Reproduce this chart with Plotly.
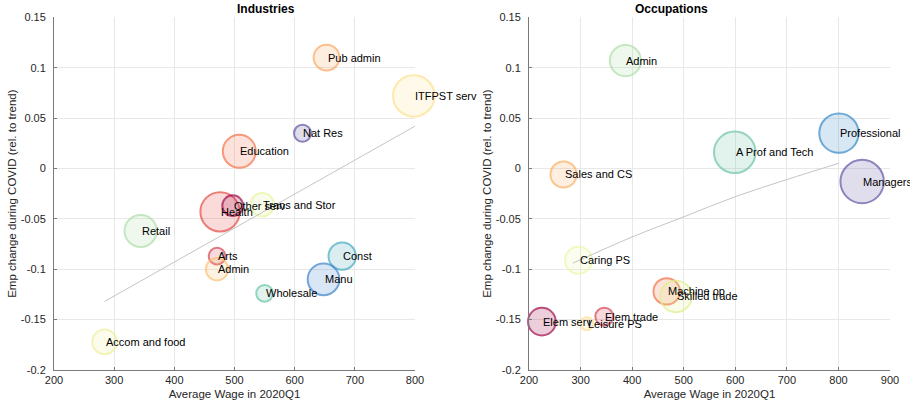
import plotly.graph_objects as go
from plotly.subplots import make_subplots

# Industries
ind_names = ['Pub admin', 'ITFPST serv', 'Nat Res', 'Education', 'Health', 'Other serv',
             'Trans and Stor', 'Retail', 'Arts', 'Admin', 'Const', 'Manu', 'Wholesale',
             'Accom and food']
ind_wage = [653, 798, 613, 508, 476, 497, 546, 344, 471, 471, 679, 648, 550, 284]
ind_emp = [0.110, 0.072, 0.035, 0.017, -0.043, -0.037, -0.036, -0.062, -0.087, -0.100,
           -0.087, -0.110, -0.124, -0.172]
ind_size = [1.87, 4.84, 0.81, 3.06, 4.34, 1.21, 1.52, 2.89, 0.78, 1.40, 2.10, 2.83, 0.78, 1.69]
ind_colors = ['#fca55d', '#fee08b', '#5e4fa2', '#f46d43', '#e6453f', '#9e0142', '#e6f598',
              '#abdda4', '#d53e4f', '#fdbf6f', '#40a8be', '#3b7fca', '#66c2a5', '#efef9c']
ind_trend_x = [284, 800]
ind_trend_y = [-0.132, 0.042]

# Occupations
occ_names = ['Admin', 'Professional', 'A Prof and Tech', 'Sales and CS', 'Managers',
             'Caring PS', 'Machine op', 'Skilled trade', 'Elem serv', 'Leisure PS', 'Elem trade']
occ_wage = [387, 801, 599, 267, 846, 296, 467, 485, 225, 312, 346]
occ_emp = [0.107, 0.035, 0.016, -0.006, -0.013, -0.091, -0.122, -0.127, -0.152, -0.154, -0.147]
occ_size = [2.72, 4.34, 4.84, 1.91, 5.29, 2.05, 1.96, 2.78, 2.15, 0.47, 0.90]
occ_colors = ['#abdda4', '#2f86c4', '#66c2a5', '#fdae61', '#5e4fa2', '#eef6a8', '#f46d43',
              '#dff08c', '#9e0142', '#fee08b', '#d53e4f']
occ_trend_x = [285, 400, 500, 600, 700, 800]
occ_trend_y = [-0.094, -0.068, -0.048, -0.028, -0.011, 0.005]

y_ticks = [-0.2, -0.15, -0.1, -0.05, 0, 0.05, 0.1, 0.15]
y_tick_labels = ['-0.2', '-0.15', '-0.1', '-0.05', '0', '0.05', '0.1', '0.15']


def rgba(h, a):
    h = h.lstrip('#')
    return 'rgba(%d,%d,%d,%s)' % (int(h[0:2], 16), int(h[2:4], 16), int(h[4:6], 16), a)


FONT = 'Liberation Sans, Arial, Helvetica, sans-serif'
INK = '#262626'

fig = make_subplots(rows=1, cols=2)

panels = [
    (1, ind_names, ind_wage, ind_emp, ind_size, ind_colors, ind_trend_x, ind_trend_y),
    (2, occ_names, occ_wage, occ_emp, occ_size, occ_colors, occ_trend_x, occ_trend_y),
]

for col, names, wage, emp, size, colors, tx, ty in panels:
    fig.add_trace(go.Scatter(
        x=wage, y=emp, mode='markers', cliponaxis=False, hoverinfo='text', text=names,
        marker=dict(size=size, sizemode='area', sizeref=1 / 178,
                    color=[rgba(c, 0.27) for c in colors],
                    line=dict(color=[rgba(c, 1) for c in colors], width=2)),
        showlegend=False), row=1, col=col)
    fig.add_trace(go.Scatter(
        x=tx, y=ty, mode='lines', line=dict(color='#bdbdbd', width=0.9, shape='spline'),
        hoverinfo='skip', showlegend=False), row=1, col=col)
    xref = 'x' if col == 1 else 'x2'
    yref = 'y' if col == 1 else 'y2'
    for n, xv, yv in zip(names, wage, emp):
        fig.add_annotation(x=xv, y=yv, xref=xref, yref=yref, text=n, showarrow=False,
                           xanchor='left', yanchor='middle', xshift=-1,
                           font=dict(family=FONT, size=11, color='black'))

axis_common = dict(showline=True, linecolor='#7a7a7a', linewidth=1, showgrid=True,
                   gridcolor='#e8e8e8', gridwidth=1, zeroline=False, ticks='inside',
                   ticklen=3, tickcolor='#7a7a7a', mirror=False, automargin=False,
                   tickfont=dict(family=FONT, size=11, color=INK))

fig.update_xaxes(**axis_common, title=dict(text='Average Wage in 2020Q1', standoff=4,
                 font=dict(family=FONT, size=11.5, color=INK)))
fig.update_yaxes(**axis_common, range=[-0.2, 0.15], tickvals=y_ticks, ticktext=y_tick_labels,
                 ticklabelstandoff=5,
                 title=dict(text='Emp change during COVID (rel. to trend)', standoff=1,
                            font=dict(family=FONT, size=11.5, color=INK)))

fig.update_layout(
    width=910, height=407, margin=dict(l=0, r=0, t=0, b=0),
    paper_bgcolor='white', plot_bgcolor='white',
    xaxis=dict(domain=[54 / 910, 415 / 910], range=[200, 800], dtick=100),
    xaxis2=dict(domain=[529 / 910, 890 / 910], range=[200, 900], dtick=100),
    yaxis=dict(domain=[37 / 407, 389.7 / 407]),
    yaxis2=dict(domain=[37 / 407, 389.7 / 407]),
)

for title, dom in [('Industries', (54, 415)), ('Occupations', (529, 890))]:
    fig.add_annotation(x=(dom[0] + dom[1]) / 2 / 910, y=1 - 9 / 407, xref='paper', yref='paper',
                       text='<b>%s</b>' % title, showarrow=False, yanchor='middle',
                       font=dict(family=FONT, size=12, color='black'))

# the page's default body margin would shift the figure by 8px
fig.write_html('out.html', config={'displayModeBar': False},
               post_script="document.body.style.margin='0';")
